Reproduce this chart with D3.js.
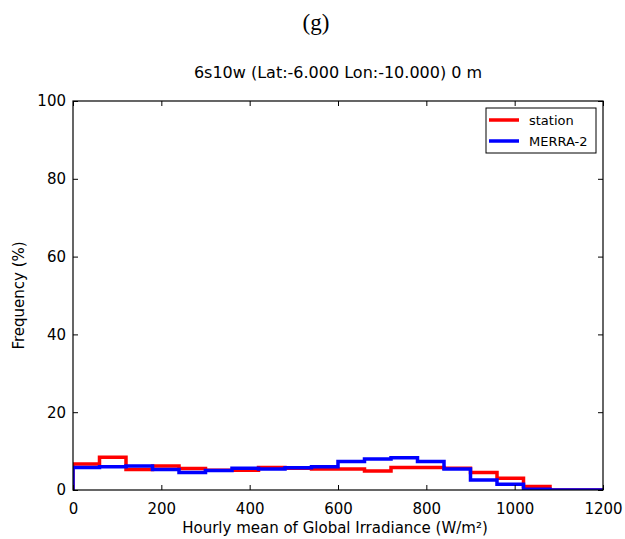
<!DOCTYPE html>
<html>
<head>
<meta charset="utf-8">
<script src="https://cdnjs.cloudflare.com/ajax/libs/d3/7.8.5/d3.min.js"></script>
<style>
  body { margin: 0; background: #fff; }
  text { font-family: "DejaVu Sans", sans-serif; fill: #000; }
</style>
</head>
<body>
<svg id="chart" width="625" height="539"></svg>
<script>
// bin edges every 60 W/m2 from 0 to 1200
var binEdges = d3.range(0, 1201, 60);
var stationVals = [6.7, 8.4, 5.3, 6.2, 5.5, 5.1, 5.1, 5.8, 5.6, 5.4, 5.4, 4.9, 5.8, 5.8, 5.6, 4.5, 3.0, 0.9, 0, 0];
var merraVals   = [5.8, 6.0, 6.2, 5.3, 4.5, 5.0, 5.6, 5.4, 5.7, 6.0, 7.3, 8.0, 8.3, 7.3, 5.4, 2.6, 1.5, 0.2, 0, 0];
var xTicks = [0, 200, 400, 600, 800, 1000, 1200];
var yTicks = [0, 20, 40, 60, 80, 100];
var seriesNames = ['station', 'MERRA-2'];
var seriesColors = ['#ff0000', '#0000ff'];

var svg = d3.select('#chart');
var plotL = 73, plotR = 603, plotT = 101, plotB = 490;

var x = d3.scaleLinear().domain([0, 1200]).range([plotL, plotR]);
var y = d3.scaleLinear().domain([0, 100]).range([plotB, plotT]);

svg.append('text')
	.attr('x', 316).attr('y', 30)
	.attr('text-anchor', 'middle')
	.style('font-family', '"Liberation Serif", "Times New Roman", serif')
	.style('font-size', '23px')
	.text('(g)');

svg.append('text')
	.attr('x', 338).attr('y', 78)
	.attr('text-anchor', 'middle')
	.style('font-size', '16px')
	.text('6s10w (Lat:-6.000 Lon:-10.000) 0 m');

// step outline like matplotlib histtype='step'
function stepPath(vals) {
	var pts = [[binEdges[0], 0]];
	vals.forEach(function(v, i) {
		pts.push([binEdges[i], v]);
		pts.push([binEdges[i + 1], v]);
	});
	pts.push([binEdges[binEdges.length - 1], 0]);
	return d3.line().x(function(d) { return x(d[0]); }).y(function(d) { return y(d[1]); })(pts);
}

var plot = svg.append('g');
plot.append('defs').append('clipPath').attr('id', 'clip')
	.append('rect').attr('x', plotL).attr('y', plotT).attr('width', plotR - plotL).attr('height', plotB - plotT);

[stationVals, merraVals].forEach(function(vals, i) {
	plot.append('path')
		.attr('d', stepPath(vals))
		.attr('fill', 'none')
		.attr('stroke', seriesColors[i])
		.attr('stroke-width', 3.5)
		.attr('stroke-linejoin', 'miter')
		.attr('clip-path', 'url(#clip)');
});

// axes with inward ticks on all four sides
var tickLen = 5;
svg.append('g').attr('transform', 'translate(0,' + plotB + ')')
	.call(d3.axisBottom(x).tickValues(xTicks).tickSize(-tickLen).tickPadding(13).tickFormat(d3.format('d')))
	.call(function(g) { g.select('.domain').remove(); g.selectAll('text').style('font-size', '15px'); });
svg.append('g').attr('transform', 'translate(0,' + plotT + ')')
	.call(d3.axisTop(x).tickValues(xTicks).tickSize(-tickLen).tickFormat(''))
	.call(function(g) { g.select('.domain').remove(); });
svg.append('g').attr('transform', 'translate(' + plotL + ',0)')
	.call(d3.axisLeft(y).tickValues(yTicks).tickSize(-tickLen).tickPadding(7))
	.call(function(g) { g.select('.domain').remove(); g.selectAll('text').style('font-size', '15px'); });
svg.append('g').attr('transform', 'translate(' + plotR + ',0)')
	.call(d3.axisRight(y).tickValues(yTicks).tickSize(-tickLen).tickFormat(''))
	.call(function(g) { g.select('.domain').remove(); });

svg.append('rect')
	.attr('x', plotL).attr('y', plotT)
	.attr('width', plotR - plotL).attr('height', plotB - plotT)
	.attr('fill', 'none').attr('stroke', '#000').attr('stroke-width', 1.2);

svg.append('text')
	.attr('x', (plotL + plotR) / 2 - 3).attr('y', 533)
	.attr('text-anchor', 'middle')
	.style('font-size', '15px')
	.text('Hourly mean of Global Irradiance (W/m²)');

svg.append('text')
	.attr('transform', 'translate(24,' + ((plotT + plotB) / 2) + ') rotate(-90)')
	.attr('text-anchor', 'middle')
	.style('font-size', '15px')
	.text('Frequency (%)');

// legend
var lg = svg.append('g');
lg.append('rect')
	.attr('x', 486).attr('y', 108).attr('width', 110).attr('height', 45)
	.attr('fill', '#fff').attr('stroke', '#000').attr('stroke-width', 1);
seriesNames.forEach(function(name, i) {
	var ly = 120 + i * 21;
	lg.append('line')
		.attr('x1', 489).attr('x2', 519).attr('y1', ly).attr('y2', ly)
		.attr('stroke', seriesColors[i]).attr('stroke-width', 3.5);
	lg.append('text')
		.attr('x', 529).attr('y', ly + 5)
		.style('font-size', '13px')
		.text(name);
});
</script>
</body>
</html>
